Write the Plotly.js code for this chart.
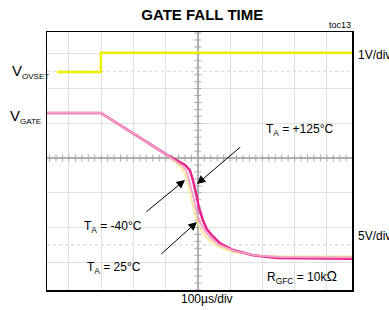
<!DOCTYPE html>
<html>
<head>
<meta charset="utf-8">
<script src="https://cdn.plot.ly/plotly-3.0.1.min.js"></script>
<style>html,body{margin:0;padding:0;background:#fff;}#chart{width:389px;height:310px;}</style>
</head>
<body>
<div id="chart"></div>
<script>
// time in microseconds (100 us/div), vertical position in scope divisions
var vovsetTime = [-437, -301, -301, 478];
var vovsetLevel = [2.48, 2.48, 3.03, 3.03];

var gateTime125 = [-468, -301, -96, -62, -40, -25, -15.5, -6, 3, 15.5, 28, 43, 68, 109, 171, 245, 478];
var gate125 = [1.30, 1.30, 0.09, -0.09, -0.20, -0.35, -0.63, -1.01, -1.41, -1.79, -2.05, -2.22, -2.45, -2.65, -2.80, -2.88, -2.90];

var gateTime25 = [-468, -301, -96, -68, -47, -34, -25, -15.5, -6, 6, 22, 40, 68, 115, 177, 254, 478];
var gate25 = [1.30, 1.30, 0.09, -0.09, -0.23, -0.40, -0.69, -1.07, -1.47, -1.84, -2.10, -2.31, -2.51, -2.68, -2.80, -2.85, -2.86];

var gateTimeM40 = [-468, -301, -96, -74, -53, -40, -31, -22, -12, 0, 15.5, 34, 62, 109, 177, 254, 478];
var gateM40 = [1.30, 1.30, 0.09, -0.09, -0.26, -0.46, -0.75, -1.12, -1.53, -1.90, -2.16, -2.36, -2.54, -2.71, -2.80, -2.83, -2.83];

var xRange = [-468, 478];
var yRange = [-3.80, 3.63];

// center-line minor ticks (0.2 div)
var hTickX = [], hTickY = [], vTickX = [], vTickY = [];
for (var i = -23; i <= 23; i++) { hTickX.push(i * 20); hTickY.push(0); }
for (var j = -19; j <= 18; j++) { vTickX.push(0); vTickY.push(j * 0.2); }

var font = 'Liberation Sans, Arial, sans-serif';

var traces = [
  {x: hTickX, y: hTickY, mode: 'markers', marker: {symbol: 'line-ns', size: 5, line: {width: 1, color: '#a8a8a8'}}, hoverinfo: 'skip'},
  {x: vTickX, y: vTickY, mode: 'markers', marker: {symbol: 'line-ew', size: 5, line: {width: 1, color: '#a8a8a8'}}, hoverinfo: 'skip'},
  {x: vovsetTime, y: vovsetLevel, mode: 'lines', line: {color: '#eeee00', width: 2.5}},
  {x: gateTimeM40, y: gateM40, mode: 'lines', line: {color: '#f6e58c', width: 1.5}},
  {x: gateTime125, y: gate125, mode: 'lines', line: {color: '#e8248a', width: 2.5}},
  {x: gateTime25, y: gate25, mode: 'lines', line: {color: '#f4a0c8', width: 1.8}}
];

function arrow(x, y, ax, ay) {
  return {x: x, y: y, ax: ax, ay: ay, xref: 'x', yref: 'y', axref: 'x', ayref: 'y', text: '',
    showarrow: true, arrowhead: 2, arrowsize: 1.7, arrowwidth: 1, arrowcolor: '#000', standoff: 0};
}
function label(text, x, y, xref, yref, xanchor, size) {
  return {text: text, x: x, y: y, xref: xref, yref: yref, xanchor: xanchor, yanchor: 'middle',
    showarrow: false, font: {family: font, size: size || 12, color: '#000'}};
}

var layout = {
  width: 389, height: 310,
  margin: {l: 47, r: 37, t: 32, b: 20},
  paper_bgcolor: '#fff', plot_bgcolor: '#fff',
  showlegend: false,
  title: {text: '<b>GATE FALL TIME</b>', x: 0.509, xanchor: 'center', xref: 'paper', y: 1 - 15 / 310, yanchor: 'middle',
    font: {family: 'Liberation Sans Narrow, Liberation Sans, Arial, sans-serif', size: 15, color: '#000'}},
  xaxis: {range: xRange, tick0: 0, dtick: 100, showticklabels: false, ticks: '', showgrid: true, gridcolor: '#e0e0e0', gridwidth: 1,
    zeroline: true, zerolinecolor: '#b0b0b0', zerolinewidth: 1.5, showline: true, mirror: true, linecolor: '#000', linewidth: 1.5, fixedrange: true},
  yaxis: {range: yRange, tick0: 0, dtick: 1, showticklabels: false, ticks: '', showgrid: true, gridcolor: '#e0e0e0', gridwidth: 1,
    zeroline: true, zerolinecolor: '#b0b0b0', zerolinewidth: 1.5, showline: true, mirror: true, linecolor: '#000', linewidth: 1.5, fixedrange: true},
  shapes: [
    {type: 'line', xref: 'paper', yref: 'y', x0: 0, x1: 1, y0: 2.5, y1: 2.5, line: {color: '#d0d0d0', width: 1, dash: 'dot'}, layer: 'below'},
    {type: 'line', xref: 'paper', yref: 'y', x0: 0, x1: 1, y0: -2.5, y1: -2.5, line: {color: '#d0d0d0', width: 1, dash: 'dot'}, layer: 'below'}
  ],
  annotations: [
    arrow(-3, -0.75, 136, 0.35),
    arrow(-40, -0.63, -164, -1.58),
    arrow(-3, -1.84, -118, -2.80),
    label('T<sub>A</sub> = +125°C', 316, 0.81, 'x', 'y', 'center'),
    label('T<sub>A</sub> = -40°C', -264, -1.99, 'x', 'y', 'center'),
    label('T<sub>A</sub> = 25°C', -260, -3.17, 'x', 'y', 'center'),
    label('R<sub>GFC</sub> = 10k<span style="font-size:14px">Ω</span>', 322, -3.43, 'x', 'y', 'center'),
    label('1V/div', 1.013, 0.911, 'paper', 'paper', 'left'),
    label('5V/div', 1.013, 0.209, 'paper', 'paper', 'left'),
    label('100µs/div', 0.525, -0.035, 'paper', 'paper', 'center'),
    label('toc13', 1.003, 1.027, 'paper', 'paper', 'right', 9),
    label('V<sub><span style="font-size:8px">OVSET</span></sub>', -0.121, 0.845, 'paper', 'paper', 'left', 15),
    label('V<sub><span style="font-size:8px">GATE</span></sub>', -0.128, 0.672, 'paper', 'paper', 'left', 15)
  ]
};

Plotly.newPlot('chart', traces, layout, {staticPlot: true, displayModeBar: false});
</script>
</body>
</html>
